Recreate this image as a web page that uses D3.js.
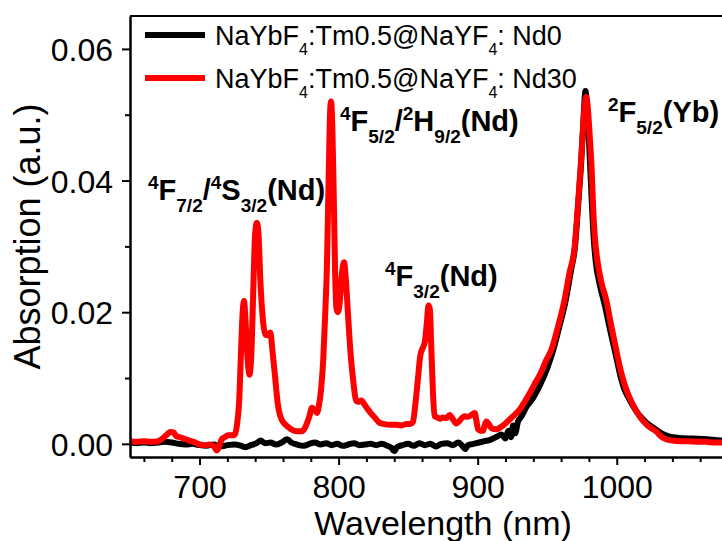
<!DOCTYPE html>
<html>
<head>
<meta charset="utf-8">
<script src="https://cdn.jsdelivr.net/npm/d3@7"></script>
<style>
  body { margin: 0; background: #fff; overflow: hidden; }
  text { font-family: "Liberation Sans", Arial, sans-serif; }
</style>
</head>
<body>
<script>
// spectra: [wavelength nm, absorption]
const nd0Points = [
  [650, 0.0002], [655, 0.0001], [660, 0.0002], [665, 0.0001], [670, 0.0002], [675, 0.0003],
  [680, 0.0002], [685, 0.0000], [690, -0.0001], [695, 0.0000], [700, -0.0002], [705, -0.0003],
  [710, -0.0001], [715, -0.0004], [720, -0.0002], [725, -0.0001], [730, -0.0003], [733, -0.0005],
  [737, -0.0002], [741, 0.0001], [744, 0.0005], [747, 0.0001], [751, 0.0002], [755, -0.0001],
  [759, 0.0002], [763, 0.0007], [766, 0.0002], [770, -0.0001], [775, -0.0003], [779, 0.0000],
  [783, 0.0002], [787, -0.0001], [791, 0.0001], [795, -0.0002], [799, 0.0000], [803, -0.0003],
  [807, -0.0001], [811, 0.0001], [815, -0.0002], [819, -0.0001], [823, 0.0000], [827, -0.0002],
  [831, 0.0000], [835, -0.0003], [838, -0.0006], [840, -0.0011], [842, -0.0005], [846, -0.0002],
  [850, 0.0000], [854, -0.0003], [858, 0.0001], [862, -0.0002], [866, 0.0000], [870, -0.0004],
  [874, 0.0000], [878, 0.0001], [882, -0.0002], [886, 0.0002], [889, -0.0003], [891, -0.0008],
  [893, -0.0002], [897, 0.0000], [901, 0.0002], [905, 0.0004], [909, 0.0006], [913, 0.0010],
  [917, 0.0014], [920, 0.0008], [922, 0.0020], [924, 0.0010], [925.5, 0.0028], [927, 0.0016],
  [929, 0.0034], [931, 0.0040], [935, 0.0056], [940, 0.0070], [945, 0.0090], [950, 0.0115],
  [954, 0.0140], [958, 0.0172], [963, 0.0215], [967, 0.0262], [970, 0.0300], [972.5, 0.0370],
  [974.5, 0.0430], [976, 0.0490], [977.5, 0.0536], [979, 0.0500], [980.5, 0.0440], [982, 0.0370],
  [983.5, 0.0310], [985, 0.0275], [988, 0.0240], [991.5, 0.0210], [995, 0.0175], [999, 0.0138],
  [1003, 0.0100], [1006, 0.0080], [1008, 0.0072], [1011, 0.0060], [1016, 0.0044], [1022, 0.0031],
  [1028, 0.0022], [1033, 0.0015], [1038, 0.0011], [1045, 0.0009], [1055, 0.0008], [1065, 0.0007],
  [1075, 0.0005], [1080, 0.0005]
];

const nd30Points = [
  [650, 0.0004], [655, 0.0003], [660, 0.0004], [665, 0.0003], [670, 0.0004], [674, 0.0009],
  [677, 0.0015], [679, 0.0018], [681.5, 0.0017], [683, 0.0012], [686, 0.0010], [690, 0.0007],
  [694, 0.0004], [697, 0.0002], [700, -0.0001], [704, -0.0002], [707, -0.0001], [710, -0.0003],
  [712.5, -0.0010], [714, -0.0004], [716, 0.0007], [718, 0.0010], [720.5, 0.0013], [723, 0.0013],
  [725.5, 0.0014], [727, 0.0030], [728.5, 0.0065], [730, 0.0150], [731, 0.0200], [732, 0.0217],
  [733, 0.0190], [734.5, 0.0130], [736, 0.0105], [737.5, 0.0150], [739, 0.0260], [740, 0.0320],
  [741.3, 0.0336], [742.5, 0.0315], [743.7, 0.0250], [745.5, 0.0190], [747.3, 0.0166], [749, 0.0165],
  [750.9, 0.0169], [752.5, 0.0140], [754.5, 0.0098], [756.3, 0.0060], [758.1, 0.0042], [760.5, 0.0032],
  [763, 0.0027], [766, 0.0022], [770, 0.0019], [773.6, 0.0019], [775.5, 0.0023], [777.2, 0.0031],
  [779, 0.0042], [780.8, 0.0055], [782.5, 0.0052], [784.4, 0.0047], [786, 0.0060], [787.5, 0.0085],
  [789, 0.0130], [790.4, 0.0199], [791.6, 0.0270], [792.8, 0.0400], [794, 0.0510], [794.6, 0.0520],
  [795.5, 0.0480], [796.5, 0.0380], [797.5, 0.0260], [798.5, 0.0205], [799.5, 0.0200], [800.8, 0.0215],
  [802.2, 0.0255], [803.9, 0.0276], [805.2, 0.0250], [806.7, 0.0199], [808.5, 0.0140], [810.4, 0.0098],
  [812.8, 0.0065], [814.5, 0.0064], [816.4, 0.0066], [818.5, 0.0060], [821.2, 0.0052], [823, 0.0047],
  [826, 0.0040], [829.4, 0.0032], [833, 0.0030], [837, 0.0029], [841, 0.0029], [845, 0.0028],
  [849, 0.0030], [851.5, 0.0030], [853.4, 0.0033], [855.2, 0.0060], [857, 0.0098], [858.8, 0.0135],
  [860.6, 0.0146], [862, 0.0155], [863.5, 0.0185], [864.6, 0.0210], [865.6, 0.0205], [866.6, 0.0150],
  [867.8, 0.0080], [869, 0.0042], [871, 0.0040], [873, 0.0038], [875, 0.0040], [877.5, 0.0039],
  [879.9, 0.0044], [882, 0.0038], [884.7, 0.0031], [887, 0.0035], [889, 0.0040], [890.7, 0.0042],
  [893, 0.0041], [895.5, 0.0044], [897.9, 0.0047], [899, 0.0036], [900.3, 0.0022], [902, 0.0020],
  [903.9, 0.0020], [905, 0.0028], [906.3, 0.0034], [908, 0.0030], [909.9, 0.0024], [913.5, 0.0022],
  [917, 0.0026], [920, 0.0031], [923, 0.0037], [926.5, 0.0044], [930.2, 0.0052], [933.8, 0.0064],
  [937.4, 0.0077], [940.7, 0.0090], [945, 0.0106], [949, 0.0126], [953, 0.0143], [958, 0.0180],
  [962.5, 0.0219], [966, 0.0260], [969.5, 0.0295], [972, 0.0360], [974, 0.0420], [975.5, 0.0470],
  [977, 0.0515], [978, 0.0527], [979, 0.0515], [980.5, 0.0470], [982, 0.0415], [983, 0.0360],
  [984.2, 0.0315], [986, 0.0280], [989, 0.0245], [992.4, 0.0219], [996, 0.0180], [999.6, 0.0143],
  [1003, 0.0110], [1006.8, 0.0083], [1011, 0.0062], [1016.4, 0.0042], [1022, 0.0028], [1028.3, 0.0019],
  [1032, 0.0011], [1035.5, 0.0007], [1040, 0.0005], [1046, 0.0004], [1052, 0.0004], [1058, 0.0003],
  [1064, 0.0003], [1070, 0.0002], [1075, 0.0002], [1080, 0.0002]
];

const xMajorTicks = [700, 800, 900, 1000];
const xMinorTicks = [660, 680, 720, 740, 760, 780, 820, 840, 860, 880, 920, 940, 960, 980, 1020, 1040, 1060];
const yMajorTicks = [0.00, 0.02, 0.04, 0.06];
const yMinorTicks = [0.01, 0.03, 0.05];

const seriesNames = ["Nd0", "Nd30"];
const seriesColors = ["#000000", "#ff0000"];

// annotation text pieces: "sup" raised, "sub" lowered, else normal
const peakLabels = [
  [["4", "sup"], ["F"], ["7/2", "sub"], ["/"], ["4", "sup"], ["S"], ["3/2", "sub"], ["(Nd)"]],
  [["4", "sup"], ["F"], ["5/2", "sub"], ["/"], ["2", "sup"], ["H"], ["9/2", "sub"], ["(Nd)"]],
  [["4", "sup"], ["F"], ["3/2", "sub"], ["(Nd)"]],
  [["2", "sup"], ["F"], ["5/2", "sub"], ["(Yb)"]]
];

//SVG size
const w = 722;
const h = 541;

//plot frame
const pLeft = 130, pRight = 728, pTop = 16, pBottom = 457;

const svg = d3.select("body").append("svg").attr("width", w).attr("height", h);

const x = d3.scaleLinear().domain([650, 1080]).range([pLeft, pRight]);
const y = d3.scaleLinear().domain([-0.002, 0.065]).range([pBottom, pTop]);

svg.append("clipPath").attr("id", "plotclip")
  .append("rect").attr("x", pLeft).attr("y", pTop).attr("width", pRight - pLeft).attr("height", pBottom - pTop);

const line = d3.line()
  .x((d) => x(d[0]))
  .y((d) => y(d[1]))
  .curve(d3.curveMonotoneX);

const plot = svg.append("g").attr("clip-path", "url(#plotclip)");
[nd0Points, nd30Points].forEach((pts, i) => {
  plot.append("path")
    .datum(pts)
    .attr("d", line)
    .attr("fill", "none")
    .attr("stroke", seriesColors[i])
    .attr("stroke-width", 6)
    .attr("stroke-linejoin", "round")
    .attr("stroke-linecap", "round");
});

// axes
const styleAxis = (g) => {
  g.selectAll("path.domain").attr("stroke", "#000").attr("stroke-width", 2);
  g.selectAll(".tick line").attr("stroke", "#000").attr("stroke-width", 2);
  g.selectAll(".tick text").attr("fill", "#000").style("font-family", "Liberation Sans, Arial, sans-serif");
};

svg.append("g")
  .attr("transform", `translate(0,${pBottom})`)
  .call(d3.axisBottom(x).tickValues(xMinorTicks).tickSize(5).tickSizeOuter(0).tickFormat(""))
  .call(styleAxis);
const xAxis = svg.append("g")
  .attr("transform", `translate(0,${pBottom})`)
  .call(d3.axisBottom(x).tickValues(xMajorTicks).tickSize(8).tickSizeOuter(0).tickPadding(10).tickFormat(d3.format("d")))
  .call(styleAxis);
xAxis.selectAll(".tick text").attr("font-size", 32).attr("dy", "0.71em");

svg.append("g")
  .attr("transform", `translate(${pLeft},0)`)
  .call(d3.axisLeft(y).tickValues(yMinorTicks).tickSize(5).tickSizeOuter(0).tickFormat(""))
  .call(styleAxis);
const yAxis = svg.append("g")
  .attr("transform", `translate(${pLeft},0)`)
  .call(d3.axisLeft(y).tickValues(yMajorTicks).tickSize(8).tickSizeOuter(0).tickPadding(9).tickFormat(d3.format(".2f")))
  .call(styleAxis);
yAxis.selectAll(".tick text").attr("font-size", 32).attr("dy", "0.36em");

// top frame line
svg.append("line")
  .attr("x1", pLeft).attr("x2", pRight).attr("y1", pTop).attr("y2", pTop)
  .attr("stroke", "#000").attr("stroke-width", 2);

// axis titles
svg.append("text")
  .attr("x", 443).attr("y", 535)
  .attr("text-anchor", "middle")
  .attr("font-size", 34)
  .text("Wavelength (nm)");

svg.append("text")
  .attr("transform", `translate(40,${(pTop + pBottom) / 2}) rotate(-90)`)
  .attr("text-anchor", "middle")
  .attr("font-size", 36)
  .text("Absorption (a.u.)");

// legend
const legend = svg.append("g");
seriesNames.forEach((name, i) => {
  const ly = 35 + i * 43;
  legend.append("line")
    .attr("x1", 145).attr("x2", 205).attr("y1", ly).attr("y2", ly)
    .attr("stroke", seriesColors[i]).attr("stroke-width", 6);
  const t = legend.append("text").attr("x", 215).attr("y", ly + 10).attr("font-size", 27);
  t.append("tspan").text("NaYbF");
  t.append("tspan").attr("font-size", 16).attr("dy", 10).text("4");
  t.append("tspan").attr("dy", -10).text(":Tm0.5@NaYF");
  t.append("tspan").attr("font-size", 16).attr("dy", 10).text("4");
  t.append("tspan").attr("dy", -10).text(": " + name);
});

// peak labels, anchored at [x px, baseline px]
const labelSpots = [[148, 200], [340, 131], [385, 286], [608, 122]];
peakLabels.forEach((parts, i) => {
  const t = svg.append("text")
    .attr("x", labelSpots[i][0]).attr("y", labelSpots[i][1])
    .attr("font-size", 29).attr("font-weight", "bold");
  let shift = 0;
  parts.forEach((p) => {
    let target = 0;
    if (p[1] === "sup") target = -11;
    if (p[1] === "sub") target = 12;
    const s = t.append("tspan").attr("dy", target - shift).text(p[0]);
    if (p[1]) s.attr("font-size", 19);
    shift = target;
  });
});
</script>
</body>
</html>
